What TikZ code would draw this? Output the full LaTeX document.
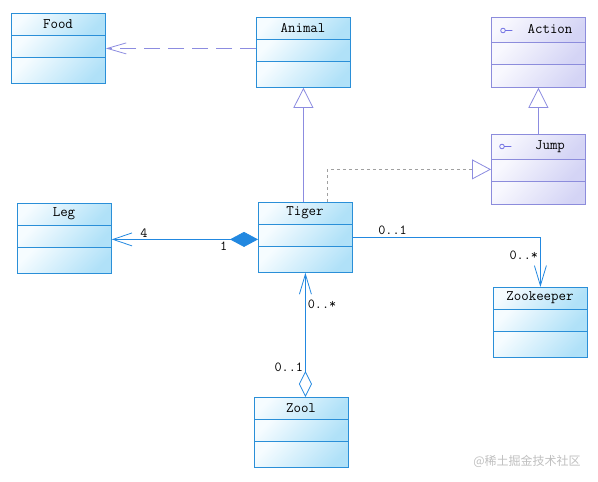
\documentclass[tikz,border=0pt]{standalone}
\usepackage{fontspec}
\newfontfamily\cjkfont{Noto Sans CJK SC}
\usetikzlibrary{arrows.meta}

\definecolor{clsline}{HTML}{2A8FD8}
\definecolor{clstop}{HTML}{F6FCFF}
\definecolor{clsbot}{HTML}{B0E1F8}
\definecolor{itfline}{HTML}{8C8CDC}
\definecolor{itftop}{HTML}{F8F8FE}
\definecolor{itfbot}{HTML}{D4D4F5}
\definecolor{relblue}{HTML}{2288E0}
\definecolor{relviolet}{HTML}{8C8CE0}
\definecolor{relgray}{HTML}{A0A0A0}

\tikzset{
    cls/.style={draw=clsline, line width=0.9pt, top color=clstop, bottom color=clsbot, shading angle=45},
    itf/.style={draw=itfline, line width=0.9pt, top color=itftop, bottom color=itfbot, shading angle=45},
    cls title/.style={font=\ttfamily\fontsize{14.5}{14.5}\selectfont},
    itf title/.style={font=\ttfamily\fontsize{14.5}{14.5}\selectfont, xshift=12pt},
    mult/.style={font=\ttfamily\fontsize{13.8}{13.8}\selectfont, text=black, inner sep=2pt},
}

% name, north west corner, title, style, title row height
\NewDocumentCommand{\umlclass}{mmmO{cls}O{22}}{%
\begin{scope}[shift={(#2)}]%
\draw[#4] (0,0) rectangle (94,#5);
\draw[#4] (0,#5) rectangle (94,#5+22);
\draw[#4] (0,#5+22) rectangle (94,70);
\node[inner sep=0pt, minimum width=94pt, minimum height=70pt, anchor=north west] (#1) at (0,0) {};
\node[#4 title] (#1-name) at (47,#5/2) {#3};
\end{scope}%
}

\begin{document}
\begin{tikzpicture}[x=1pt, y=-1pt, line width=0.8pt]
        \useasboundingbox (0,0) rectangle (598,482);

        % classes
        \umlclass{food}{11,13}{Food}
        \umlclass{animal}{256,17}{Animal}
        \umlclass{action}{491,17}{Action}[itf][25]
        \umlclass{jump}{491,134}{Jump}[itf][25]
        \umlclass{leg}{17,203}{Leg}
        \umlclass{tiger}{258,202}{Tiger}
        \umlclass{keeper}{493,287}{Zookeeper}
        \umlclass{zool}{254,397}{Zool}

        % interface marks
        \draw[itfline!80!blue] ([shift={(12pt,-13.5pt)}]action.north west) circle (2.3pt) ++(2.3pt,0) -- ++(7pt,0);
        \draw[itfline!80!blue] ([shift={(11pt,-12.5pt)}]jump.north west) circle (2.3pt) ++(2.3pt,0) -- ++(7pt,0);

        % dependency
        \draw[relviolet, dash pattern=on 16pt off 8pt, -{Straight Barb[length=19pt, width=11pt]}]
            ([yshift=4pt]animal.west) -- ([yshift=4pt]animal.west -| food.east);

        % generalization
        \draw[relviolet, -{Triangle[open, length=20pt, width=20pt, fill=white]}]
            (tiger.north -| animal.south) -- (animal.south);
        \draw[relviolet, -{Triangle[open, length=20pt, width=20pt, fill=white]}]
            (jump.north) -- (action.south);

        % realization
        \draw[relgray, dash pattern=on 3pt off 3pt, -{Triangle[open, length=19pt, width=20pt, fill=white, color=relviolet]}]
            ([xshift=22pt]tiger.north) |- (jump.west);

        % composition
        \draw[relblue, {Diamond[length=28pt, width=15pt]}-{Straight Barb[length=19pt, width=13pt]}]
            ([yshift=-2pt]tiger.west) -- ([yshift=-2pt]tiger.west -| leg.east)
            node[mult, pos=0.78, above] (legmany) {4}
            node[mult, pos=0.235, below] (legone) {1};

        % association
        \draw[relblue, -{Straight Barb[length=20pt, width=12pt]}]
            (tiger.east) -| (keeper.north)
            node[mult, pos=0.106, above] (keepone) {0..1}
            node[mult, pos=0.683, left] (keepmany) {0..*};

        % aggregation
        \draw[relblue, {Straight Barb[length=20pt, width=12pt]}-{Diamond[open, length=26pt, width=13pt, fill=white]}]
            (tiger.south) -- (tiger.south |- zool.north)
            node[mult, pos=0.256, right] (zoolmany) {0..*}
            node[mult, pos=0.758, left] (zoolone) {0..1};

        \node[font=\cjkfont\fontsize{12}{12}\selectfont, text=gray!50] (mark) at (527,461) {@稀土掘金技术社区};
    \end{tikzpicture}
\end{document}
